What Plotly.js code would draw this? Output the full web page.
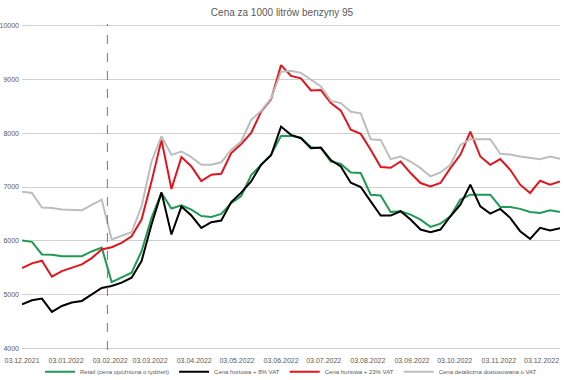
<!DOCTYPE html>
<html>
<head>
<meta charset="utf-8">
<script src="https://cdn.plot.ly/plotly-3.0.1.min.js"></script>
<style>html,body{margin:0;padding:0;background:#fff;}#chart{width:564px;height:380px;}</style>
</head>
<body>
<div id="chart"></div>
<script>
var dates = ["2021-12-03","2021-12-10","2021-12-17","2021-12-24","2021-12-31","2022-01-07","2022-01-14","2022-01-21","2022-01-28","2022-02-04","2022-02-11","2022-02-18","2022-02-25","2022-03-04","2022-03-11","2022-03-18","2022-03-25","2022-04-01","2022-04-08","2022-04-15","2022-04-22","2022-04-29","2022-05-06","2022-05-13","2022-05-20","2022-05-27","2022-06-03","2022-06-10","2022-06-17","2022-06-24","2022-07-01","2022-07-08","2022-07-15","2022-07-22","2022-07-29","2022-08-05","2022-08-12","2022-08-19","2022-08-26","2022-09-02","2022-09-09","2022-09-16","2022-09-23","2022-09-30","2022-10-07","2022-10-14","2022-10-21","2022-10-28","2022-11-04","2022-11-11","2022-11-18","2022-11-25","2022-12-02","2022-12-09","2022-12-16"];

var retail = [6005,5981,5746,5740,5715,5715,5715,5802,5876,5233,5315,5407,5807,6426,6889,6600,6660,6580,6460,6444,6500,6700,6830,7220,7413,7600,7950,7950,7915,7738,7722,7474,7430,7271,7259,6857,6844,6537,6549,6487,6394,6259,6320,6456,6765,6857,6857,6857,6630,6630,6593,6537,6518,6567,6537];
var hurt8 = [4820,4894,4926,4678,4789,4852,4882,5005,5122,5160,5222,5315,5622,6302,6900,6117,6636,6470,6240,6345,6376,6720,6895,7104,7413,7590,8123,7969,7907,7722,7734,7500,7382,7080,7000,6733,6469,6469,6549,6394,6209,6160,6209,6456,6672,7043,6641,6506,6593,6426,6178,6037,6240,6191,6234];
var hurt23 = [5493,5580,5630,5333,5437,5500,5561,5678,5839,5880,5963,6085,6394,7100,7876,6963,7555,7382,7110,7228,7246,7630,7800,8006,8400,8630,9265,9065,9020,8796,8802,8560,8420,8067,7987,7691,7370,7358,7474,7259,7074,7012,7074,7351,7598,8031,7567,7413,7518,7320,7043,6889,7117,7043,7104];
var detal = [6910,6890,6617,6610,6580,6567,6567,6667,6765,6024,6085,6159,6641,7474,7940,7598,7660,7555,7413,7413,7460,7690,7845,8246,8415,8648,9141,9160,9122,9000,8870,8600,8560,8400,8370,7889,7876,7518,7567,7474,7351,7197,7271,7413,7783,7889,7889,7889,7617,7604,7567,7537,7518,7567,7524];

var seriesNames = ["Retail (cena opóźniona o tydzień)","Cena hurtowa + 8% VAT","Cena hurtowa + 23% VAT","Cena detaliczna dostosowana o VAT"];
var tickDates = ["2021-12-03","2022-01-03","2022-02-03","2022-03-03","2022-04-03","2022-05-03","2022-06-03","2022-07-03","2022-08-03","2022-09-03","2022-10-03","2022-11-03","2022-12-03"];
var tickLabels = ["03.12.2021","03.01.2022","03.02.2022","03.03.2022","03.04.2022","03.05.2022","03.06.2022","03.07.2022","03.08.2022","03.09.2022","03.10.2022","03.11.2022","03.12.2022"];
var yTicks = [4000,5000,6000,7000,8000,9000,10000];
var vatCutDate = "2022-02-01";

var colors = ["rgb(31,154,85)","rgb(0,0,0)","rgb(227,20,28)","rgb(189,189,189)"];
var values = [retail, hurt8, hurt23, detal];
var traces = values.map(function(v, k){
  return {x: dates, y: v, type: "scatter", mode: "lines", name: seriesNames[k],
          line: {color: colors[k], width: 2}, hoverinfo: "none"};
});

var font = "Liberation Sans, Arial, sans-serif";
var layout = {
  width: 564, height: 380,
  margin: {l: 22, r: 4, t: 24, b: 30},
  paper_bgcolor: "rgb(255,255,255)", plot_bgcolor: "rgb(255,255,255)",
  font: {family: font, color: "rgb(89,89,89)", size: 7},
  title: {text: "Cena za 1000 litrów benzyny 95", font: {family: font, size: 10, color: "rgb(89,89,89)"},
          x: 0.5, xanchor: "center", y: 0.968, yanchor: "middle", yref: "container"},
  showlegend: true,
  legend: {orientation: "h", x: 0.5, xanchor: "center", y: 0.022, yanchor: "middle", yref: "container",
           bgcolor: "rgba(255,255,255,0)", font: {family: font, size: 6, color: "rgb(89,89,89)"},
           itemwidth: 30, tracegroupgap: 0},
  xaxis: {type: "date", range: ["2021-12-03", "2022-12-16"], tickvals: tickDates, ticktext: tickLabels,
          showgrid: false, zeroline: false, showline: false, ticks: "", tickangle: 0,
          tickfont: {family: font, size: 7, color: "rgb(89,89,89)"}, ticklabelstandoff: 5},
  yaxis: {range: [3970, 10030], tickvals: yTicks, ticktext: yTicks.map(String), showgrid: true,
          gridcolor: "rgb(208,208,208)", gridwidth: 1,
          zeroline: false, showline: false, ticks: "", tickfont: {family: font, size: 7, color: "rgb(89,89,89)"},
          ticklabelstandoff: 2},
  shapes: [{type: "line", xref: "x", yref: "paper", x0: vatCutDate, x1: vatCutDate, y0: 0, y1: 1,
            layer: "above", line: {color: "rgb(214,80,76)", width: 1, dash: "dash"}}]
};

Plotly.newPlot("chart", traces, layout, {displayModeBar: false, staticPlot: true});
</script>
</body>
</html>
